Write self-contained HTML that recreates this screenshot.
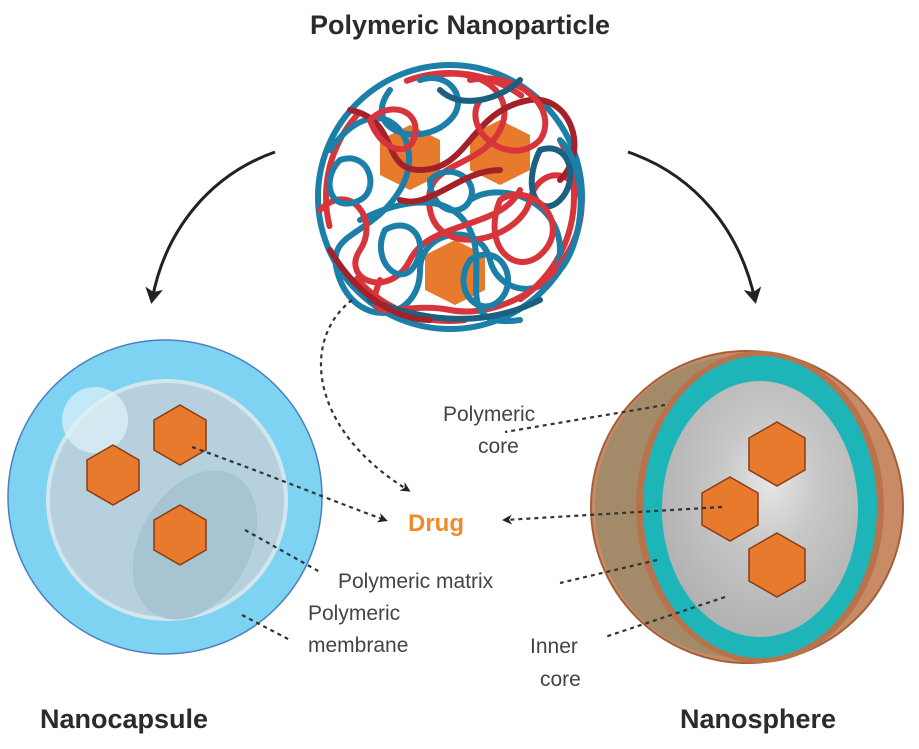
<!DOCTYPE html>
<html><head><style>
html,body{margin:0;padding:0;background:#fff;}
svg text{font-family:"Liberation Sans",sans-serif;}
</style></head><body>
<svg width="919" height="744" viewBox="0 0 919 744" xmlns="http://www.w3.org/2000/svg">
<defs>
<marker id="ah" markerWidth="10" markerHeight="10" refX="7" refY="5" orient="auto" markerUnits="userSpaceOnUse"><path d="M0,0 L10,5 L0,10 L3,5 Z" fill="#222"/></marker>
<marker id="ab" markerWidth="18" markerHeight="18" refX="12" refY="9" orient="auto" markerUnits="userSpaceOnUse"><path d="M0,0 L16,9 L0,18 L4,9 Z" fill="#222"/></marker>
<radialGradient id="gray" cx="0.55" cy="0.4" r="0.6"><stop offset="0" stop-color="#e6e6e6"/><stop offset="0.4" stop-color="#c8c8c8"/><stop offset="1" stop-color="#b2b2b2"/></radialGradient>
</defs>
<text x="460" y="34" text-anchor="middle" font-size="27" font-weight="bold" fill="#2b2b2b">Polymeric Nanoparticle</text>

<!-- nanoparticle -->
<circle cx="450" cy="197" r="138" fill="#fff"/>
<g fill="#e87a2e"><polygon points="410,125 440,140 440,175 410,190 380,175 380,140"/><polygon points="500,120 530,135 530,170 500,185 470,170 470,135"/><polygon points="455,240 485,255 485,290 455,305 425,290 425,255"/></g>
<g fill="none" stroke-width="6" stroke-linecap="round">
<circle cx="450" cy="197" r="132" stroke="#1b7fa8"/>
<circle cx="450" cy="197" r="124" stroke="#d8343b" stroke-dasharray="120 60"/>
<path d="M330,150 C380,80 430,140 400,190 C370,240 320,230 340,280 C360,330 420,320 420,270 C420,230 480,220 490,260 C500,300 560,300 560,250 C560,200 500,180 470,200" stroke="#1b7fa8"/>
<path d="M420,80 C470,60 520,90 500,130 C480,170 420,160 430,210 C440,260 520,240 530,200 C540,160 590,170 580,220 C570,280 500,320 450,310 C400,300 360,330 380,280" stroke="#d8343b"/>
<path d="M350,110 C400,120 380,170 420,170 C470,170 470,110 530,100 C570,95 590,150 560,180" stroke="#a3222a"/>
<path d="M360,220 C400,200 450,190 470,230 C490,270 450,330 520,320" stroke="#1b7fa8"/>
<path d="M320,210 C350,180 380,220 360,250 C340,280 390,300 410,260 C430,220 500,230 520,190" stroke="#d8343b"/>
<path d="M470,80 C520,70 560,110 540,140 C510,170 460,130 480,100" stroke="#d8343b"/>
<path d="M390,90 C360,130 420,150 450,120 C470,100 450,70 420,80" stroke="#1b7fa8"/>
<path d="M540,150 C570,140 580,180 560,200 C540,220 520,190 540,150" stroke="#1b6080"/>
<path d="M340,160 C370,150 380,190 360,200 C330,215 320,180 340,160" stroke="#1b7fa8"/>
<path d="M430,180 C450,160 480,180 470,200 C460,220 430,210 430,180" stroke="#1b7fa8"/>
<path d="M370,300 C420,320 480,330 540,300" stroke="#1b6080"/>
<path d="M330,250 C360,300 400,320 430,320" stroke="#a3222a"/>
<path d="M370,120 C390,100 420,110 415,135 C410,160 380,150 370,120" stroke="#d8343b"/>
<path d="M500,200 C530,180 570,220 545,250 C520,280 480,250 500,200" stroke="#d8343b"/>
<path d="M470,260 C500,240 520,280 500,300 C480,320 450,290 470,260" stroke="#1b7fa8"/>
<path d="M385,230 C410,215 430,240 415,265 C400,290 370,260 385,230" stroke="#1b7fa8"/>
<path d="M440,90 C460,110 500,100 520,80" stroke="#1b6080"/>
<path d="M560,140 C590,170 585,240 560,270" stroke="#1b7fa8"/>
<path d="M400,200 C430,210 460,170 500,170" stroke="#a3222a"/>
</g>

<!-- big arrows -->
<path d="M275,152 C210,175 165,230 152,300" fill="none" stroke="#222" stroke-width="3" marker-end="url(#ab)"/>
<path d="M628,152 C695,175 740,230 755,300" fill="none" stroke="#222" stroke-width="3" marker-end="url(#ab)"/>

<!-- nanocapsule -->
<circle cx="165" cy="497" r="157" fill="#7fd3f2" stroke="#4a7fc0" stroke-width="1.5"/>
<circle cx="167" cy="500" r="119" fill="#b6d1dd" stroke="#d2e6ee" stroke-width="4"/>
<ellipse cx="195" cy="545" rx="55" ry="80" transform="rotate(30 195 545)" fill="#a6c4d2"/>
<circle cx="95" cy="420" r="33" fill="#e0f2f8" opacity="0.7"/>
<g fill="#e87a2e" stroke="#8a3a12" stroke-width="1.5">
<polygon points="113,445 139,460 139,490 113,505 87,490 87,460"/>
<polygon points="180,405 206,420 206,450 180,465 154,450 154,420"/>
<polygon points="180,505 206,520 206,550 180,565 154,550 154,520"/>
</g>

<!-- nanosphere -->
<circle cx="747" cy="507" r="156" fill="#c98b66" stroke="#a3603c" stroke-width="2"/>
<ellipse cx="735" cy="507" rx="140" ry="150" fill="#8a8a6a" opacity="0.6"/>
<ellipse cx="760" cy="507" rx="124" ry="156" fill="#b8734c"/>
<ellipse cx="760" cy="507" rx="117" ry="151" fill="#1db5b8"/>
<ellipse cx="760" cy="509" rx="98" ry="128" fill="url(#gray)"/>
<g fill="#e87a2e" stroke="#8a3a12" stroke-width="1.5">
<polygon points="777,422 805,438 805,470 777,486 749,470 749,438"/>
<polygon points="730,477 758,493 758,525 730,541 702,525 702,493"/>
<polygon points="777,533 805,549 805,581 777,597 749,581 749,549"/>
</g>

<!-- dashed connectors -->
<g fill="none" stroke="#333" stroke-width="2.2" stroke-dasharray="4 4">
<path d="M352,300 C300,340 310,430 408,490" marker-end="url(#ah)"/>
<path d="M192,447 C270,475 330,500 385,520" marker-end="url(#ah)"/>
<path d="M245,530 L320,572"/>
<path d="M242,615 L290,640"/>
<path d="M722,507 L505,520" marker-end="url(#ah)"/>
<path d="M665,405 L505,432"/>
<path d="M657,560 L560,583"/>
<path d="M725,597 L605,637"/>
</g>

<g font-size="21" fill="#444">
<text x="443" y="421">Polymeric</text>
<text x="478" y="453">core</text>
<text x="338" y="588">Polymeric matrix</text>
<text x="308" y="620">Polymeric</text>
<text x="308" y="652">membrane</text>
<text x="530" y="653">Inner</text>
<text x="540" y="686">core</text>
</g>
<text x="408" y="531" font-size="24" font-weight="bold" fill="#f08a2a">Drug</text>
<text x="40" y="728" font-size="27" font-weight="bold" fill="#2b2b2b">Nanocapsule</text>
<text x="680" y="728" font-size="27" font-weight="bold" fill="#2b2b2b">Nanosphere</text>
</svg>
</body></html>
